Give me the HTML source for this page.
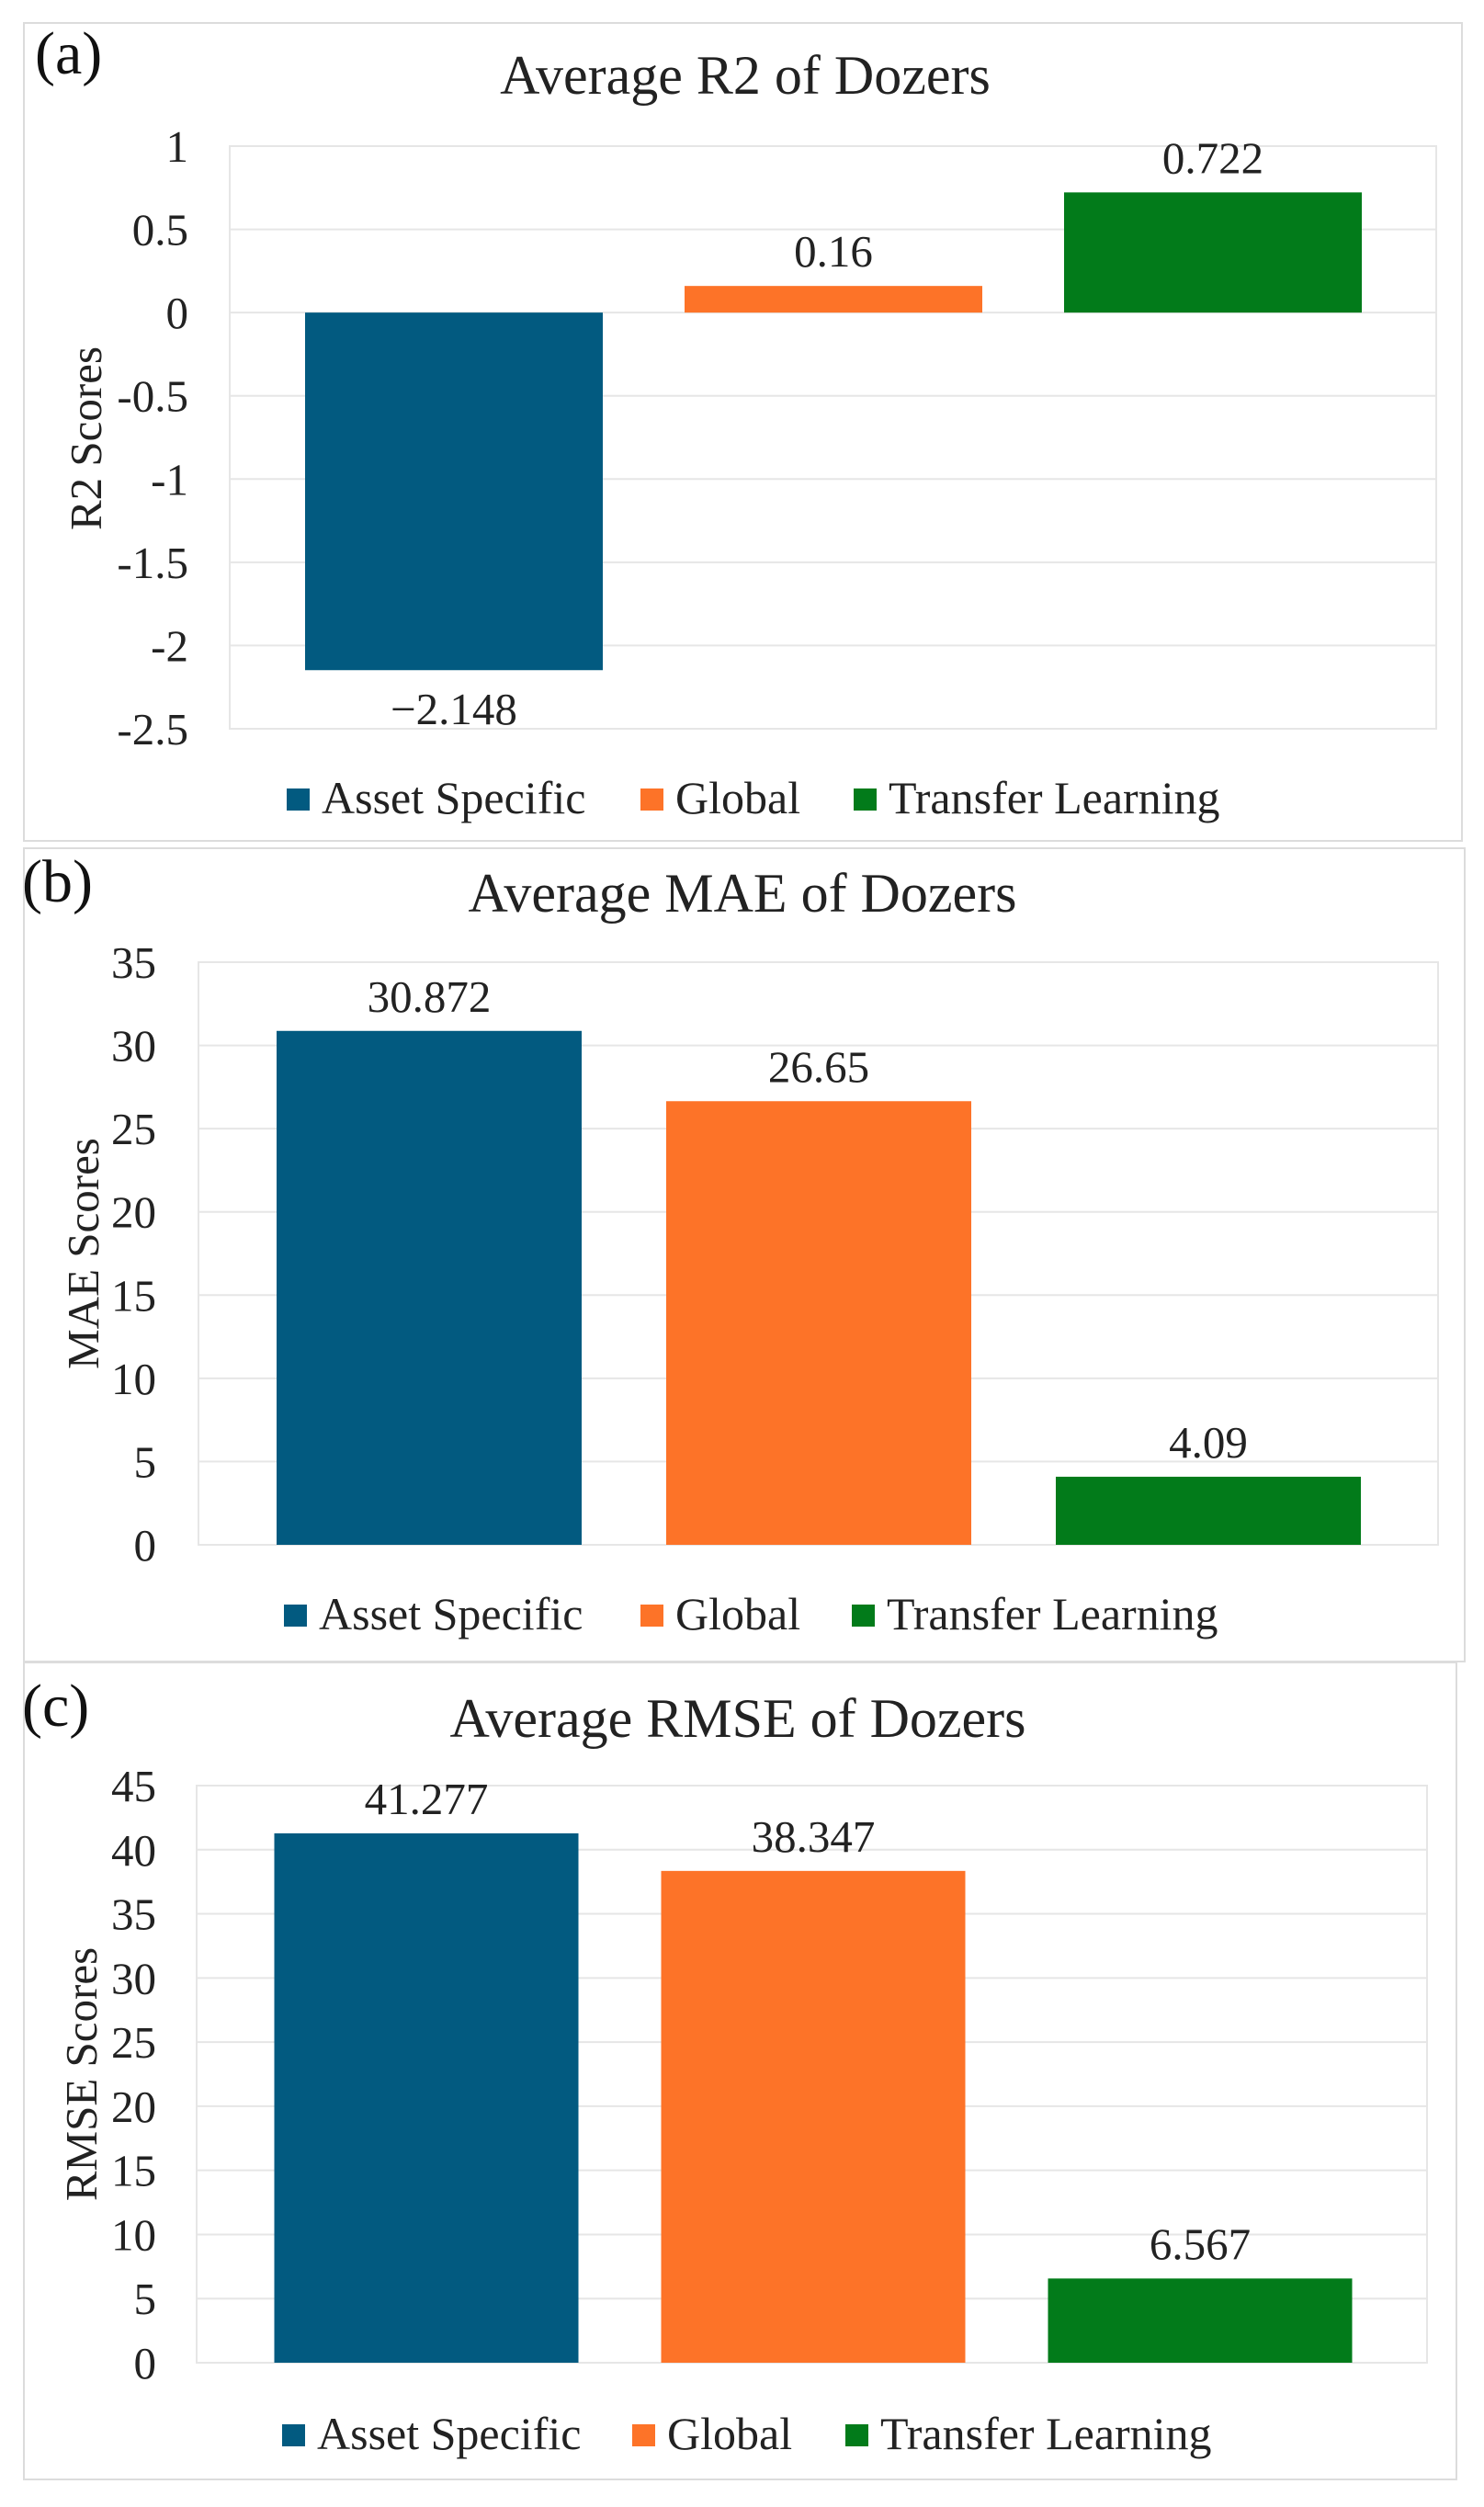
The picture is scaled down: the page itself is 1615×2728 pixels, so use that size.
<!DOCTYPE html>
<html><head><meta charset="utf-8"><style>
html,body{margin:0;padding:0;background:#fff;}
svg{display:block;}
svg text{font-family:"Liberation Serif","DejaVu Serif",serif;}
</style></head><body>
<svg id="fig" width="1615" height="2728" viewBox="0 0 1615 2728" xmlns="http://www.w3.org/2000/svg" font-family="Liberation Serif, serif"></svg>
<script>
const categories = ["Asset Specific", "Global", "Transfer Learning"];
const colors = ["#025a80", "#fd7328", "#027b1a"];
const r2Values = [-2.148, 0.16, 0.722];
const r2Labels = ["\u22122.148", "0.16", "0.722"];
const r2Ticks = [1, 0.5, 0, -0.5, -1, -1.5, -2, -2.5];
const r2TickLabels = ["1", "0.5", "0", "-0.5", "-1", "-1.5", "-2", "-2.5"];
const maeValues = [30.872, 26.65, 4.09];
const maeLabels = ["30.872", "26.65", "4.09"];
const maeTicks = [35, 30, 25, 20, 15, 10, 5, 0];
const rmseValues = [41.277, 38.347, 6.567];
const rmseLabels = ["41.277", "38.347", "6.567"];
const rmseTicks = [45, 40, 35, 30, 25, 20, 15, 10, 5, 0];

const NS = "http://www.w3.org/2000/svg";
const svg = document.getElementById("fig");
function mk(tag, attrs, parent) {
  const e = document.createElementNS(NS, tag);
  for (const k in attrs) e.setAttribute(k, attrs[k]);
  (parent || svg).appendChild(e);
  return e;
}
function txt(s, attrs, parent) {
  attrs["font-family"] = "Liberation Serif, DejaVu Serif, serif";
  const e = mk("text", attrs, parent); e.textContent = s; return e;
}

function panel(cfg) {
  const g = mk("g", {});
  
  
  const border = mk("rect", {x: cfg.box[0], y: cfg.box[1], width: cfg.box[2]-cfg.box[0], height: cfg.box[3]-cfg.box[1], fill: "none", stroke: "#dcdcdc", "stroke-width": 2}, g);
  
  
  const tag = txt(cfg.tag, {x: cfg.tagPos[0], y: cfg.tagPos[1], "font-size": 66, fill: "#111"}, g);
  
  
  const title = txt(cfg.title, {x: cfg.titlePos[0], y: cfg.titlePos[1], "font-size": 60, "text-anchor": "middle", fill: "#222"}, g);
  
  
  const [L, T, R, B] = cfg.plot;
  const vmax = cfg.ticks[0], vmin = cfg.ticks[cfg.ticks.length-1];
  const y = v => T + (vmax - v) / (vmax - vmin) * (B - T);
  const pa = mk("rect", {x: L, y: T, width: R-L, height: B-T, fill: "#fff", stroke: "#e6e6e6", "stroke-width": 2}, g);
  
  
  cfg.ticks.forEach((t, i) => {
    const gl = mk("line", {x1: L, x2: R, y1: y(t), y2: y(t), stroke: "#e6e6e6", "stroke-width": 2}, g);
    
    
    const tl = txt(cfg.tickLabels ? cfg.tickLabels[i] : String(t), {x: cfg.tickRight, y: y(t) + 17, "font-size": 49, "text-anchor": "end", fill: "#222"}, g);
    
    
  });
  const yt = txt(cfg.ytitle, {x: 0, y: 0, "font-size": 49, "text-anchor": "middle", fill: "#222", transform: `translate(${cfg.ytitlePos[0]+17},${cfg.ytitlePos[1]}) rotate(-90)`}, g);
  
  
  const bw = cfg.barW;
  cfg.values.forEach((v, i) => {
    const cx = L + cfg.pad + cfg.step * i;
    const y0 = y(0), yv = y(v);
    const bar = mk("rect", {x: cx - bw/2, y: Math.min(y0, yv), width: bw, height: Math.abs(yv - y0), fill: colors[i]}, g);
    
    
    const ly = v >= 0 ? yv - 21 : yv + 59;
    const lb = txt(cfg.labels[i], {x: cx, y: ly, "font-size": 49, "text-anchor": "middle", fill: "#222"}, g);
    
    
  });
  const lx = cfg.legendX;
  categories.forEach((c, i) => {
    const sq = mk("rect", {x: lx[i], y: cfg.legendY - 27, width: 25, height: 24, fill: colors[i]}, g);
    
    
    const lt = txt(c, {x: lx[i] + 38, y: cfg.legendY, "font-size": 50, fill: "#222"}, g);
    
    
  });
}

panel({key: "r2", box: [26, 25, 1591, 915], tag: "(a)", tagPos: [38, 80], title: "Average R2 of Dozers", titlePos: [811, 102],
  plot: [250, 159, 1563, 793], ticks: r2Ticks, tickLabels: r2TickLabels, tickRight: 205, ytitle: "R2 Scores", ytitlePos: [93, 477],
  values: r2Values, labels: r2Labels, pad: 244, step: 413, barW: 324, legendX: [312, 697, 929], legendY: 885});
panel({key: "mae", box: [26, 923, 1594, 1808], tag: "(b)", tagPos: [24, 981], title: "Average MAE of Dozers", titlePos: [808, 992],
  plot: [216, 1047, 1565, 1681], ticks: maeTicks, tickRight: 170, ytitle: "MAE Scores", ytitlePos: [90, 1364],
  values: maeValues, labels: maeLabels, pad: 251, step: 424, barW: 332, legendX: [309, 697, 927], legendY: 1773});
panel({key: "rmse", box: [26, 1809, 1585, 2698], tag: "(c)", tagPos: [24, 1878], title: "Average RMSE of Dozers", titlePos: [803, 1890],
  plot: [214, 1943, 1553, 2571], ticks: rmseTicks, tickRight: 170, ytitle: "RMSE Scores", ytitlePos: [88, 2257],
  values: rmseValues, labels: rmseLabels, pad: 250, step: 421, barW: 331, legendX: [307, 688, 920], legendY: 2665});
</script>
</body></html>
